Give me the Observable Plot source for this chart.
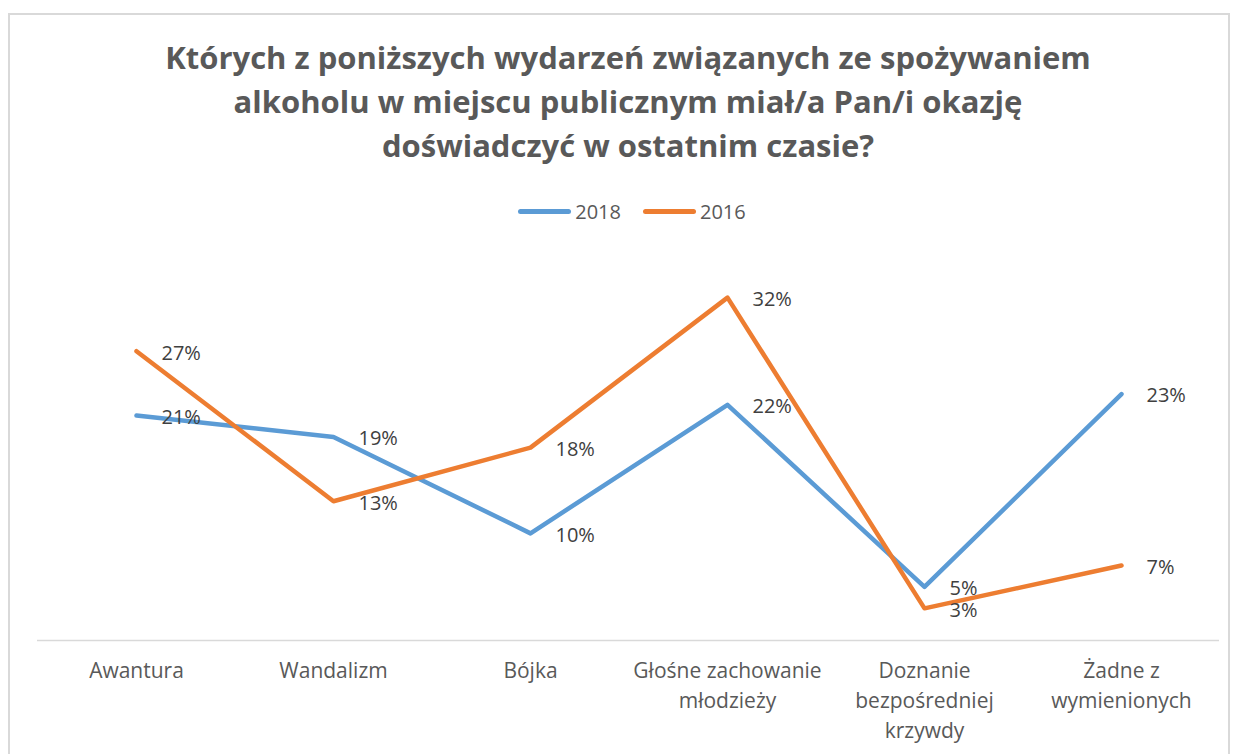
<!DOCTYPE html>
<html>
<head>
<meta charset="utf-8">
<script src="https://cdn.jsdelivr.net/npm/d3@7"></script>
<script src="https://cdn.jsdelivr.net/npm/@observablehq/plot@0.6"></script>
<style>
  html, body { margin: 0; padding: 0; background: #fff; }
  body { width: 1235px; height: 754px; overflow: hidden; position: relative; font-family: "Open Sans", sans-serif; }
  #frame { position: absolute; left: 8px; top: 13px; width: 1222px; height: 800px; border: 2px solid #d9d9d9; box-sizing: border-box; }
  #title { position: absolute; left: 0; top: 35px; width: 1256px; text-align: center; font-weight: bold; font-size: 31px; line-height: 44px; color: #595959; }
  #legend { position: absolute; left: 0; top: 198px; width: 1264px; display: flex; justify-content: center; align-items: center; font-size: 20px; color: #595959; }
  .item { display: flex; align-items: center; margin: 0 11px; }
  .swatch { width: 53px; height: 5px; border-radius: 3px; margin-right: 4px; }
  #chart { position: absolute; left: 0; top: 0; }
</style>
</head>
<body>
<div id="frame"></div>
<div id="title">Których z poniższych wydarzeń związanych ze spożywaniem<br>alkoholu w miejscu publicznym miał/a Pan/i okazję<br>doświadczyć w ostatnim czasie?</div>
<div id="legend"></div>
<div id="chart"></div>
<script>
const categories = ["Awantura", "Wandalizm", "Bójka", "Głośne zachowanie młodzieży", "Doznanie bezpośredniej krzywdy", "Żadne z wymienionych"];
const tickLabels = ["Awantura", "Wandalizm", "Bójka", "Głośne zachowanie\nmłodzieży", "Doznanie\nbezpośredniej\nkrzywdy", "Żadne z\nwymienionych"];
const seriesNames = ["2018", "2016"];
const values2018 = [21, 19, 10, 22, 5, 23];
const values2016 = [27, 13, 18, 32, 3, 7];
const seriesColors = ["#5B9BD5", "#ED7D31"];

const data = [];
[values2018, values2016].forEach((vals, s) => {
  vals.forEach((v, i) => data.push({ series: seriesNames[s], category: categories[i], value: v }));
});
const labelMap = new Map(categories.map((c, i) => [c, tickLabels[i]]));

// legend
const legend = document.getElementById("legend");
seriesNames.forEach((name, i) => {
  const item = document.createElement("div");
  item.className = "item";
  item.innerHTML = `<span class="swatch" style="background:${seriesColors[i]}"></span><span>${name}</span>`;
  legend.appendChild(item);
});

const chart = Plot.plot({
  width: 1235,
  height: 754,
  marginLeft: 37,
  marginRight: 16,
  marginTop: 265,
  marginBottom: 114,
  style: { fontFamily: "'Open Sans', sans-serif", background: "transparent", overflow: "visible" },
  x: { type: "point", domain: categories, padding: 0.5 },
  y: { domain: [0, 35], axis: null },
  color: { domain: seriesNames, range: seriesColors },
  marks: [
    Plot.ruleY([0], { stroke: "#d9d9d9", strokeWidth: 1.5 }),
    Plot.axisX({
      tickSize: 0,
      tickPadding: 16,
      tickFormat: d => labelMap.get(d),
      fontSize: 21,
      lineHeight: 1.43,
      fill: "#595959",
      label: null
    }),
    Plot.lineY(data, {
      x: "category", y: "value", z: "series", stroke: "series",
      strokeWidth: 4.5, strokeLinecap: "round", strokeLinejoin: "round"
    }),
    Plot.text(data, {
      x: "category", y: "value", text: d => d.value + "%",
      dx: 25, dy: 2, textAnchor: "start", fill: "#404040", fontSize: 20
    })
  ]
});
document.getElementById("chart").appendChild(chart);
</script>
</body>
</html>
